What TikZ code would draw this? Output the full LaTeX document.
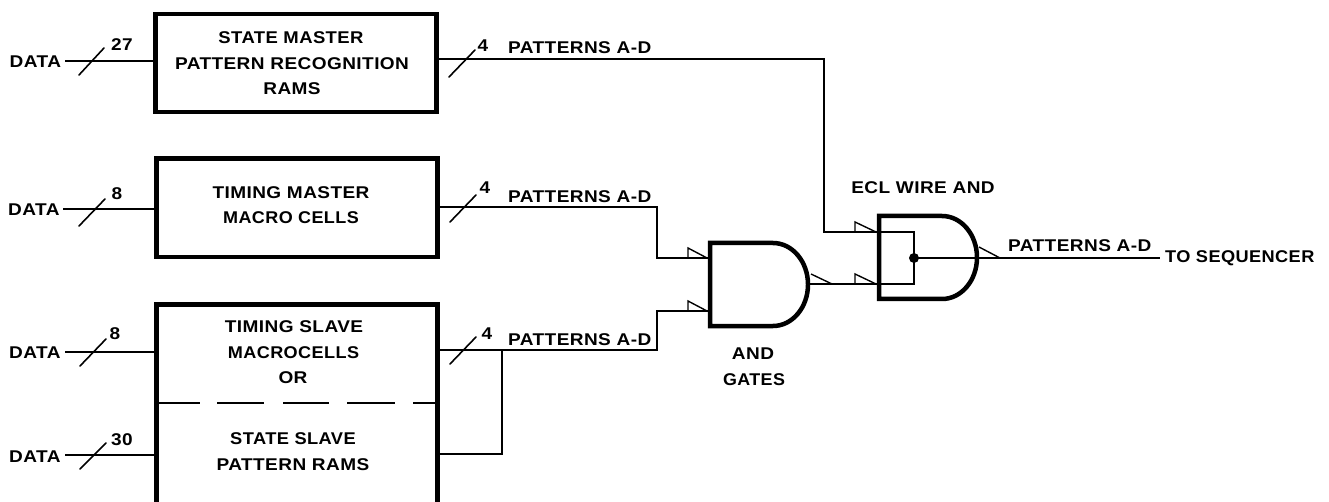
\documentclass[tikz,border=0pt]{standalone}
\usepackage{fontspec}
\newfontfamily\lblfont{Liberation Sans Bold}[FakeStretch=1.12,LetterSpace=2.5]
\tikzset{
  boxnode/.style={draw,line width=4.5pt,inner sep=0pt,anchor=north west},
  lbl/.style={font=\lblfont\fontsize{17}{17}\selectfont,inner sep=0pt,yshift=-1pt},
  tight/.style={transform shape,xscale=#1},
  wire/.style={line width=1.5pt},
  heavy/.style={line width=4.5pt,line join=miter},
  tick/.style={line width=1.6pt,line cap=round},
  pol/.style={line width=1.4pt,line join=miter},
}
\begin{document}
\begin{tikzpicture}[x=1pt,y=-1pt]
\useasboundingbox (0,0) rectangle (1329,502);
% boxes
\node[boxnode,minimum width=281pt,minimum height=98pt] (b1) at (153,12) {};
\node[boxnode,minimum width=281pt,minimum height=98.5pt] (b2) at (154,156.5) {};
\node[boxnode,minimum width=281pt,minimum height=199.5pt] (b3) at (154,302.5) {};
\node[lbl,tight=.97] (t1a) at (291,37) {STATE MASTER};
\node[lbl] (t1b) at (292,63) {PATTERN RECOGNITION};
\node[lbl] (t1c) at (292,88) {RAMS};
\node[lbl] (t2a) at (291,192) {TIMING MASTER};
\node[lbl,tight=.945] (t2b) at (291,217) {MACRO CELLS};
\node[lbl] (t3a) at (294,326) {TIMING SLAVE};
\node[lbl,tight=.95] (t3b) at (293.5,352) {MACROCELLS};
\node[lbl] (t3c) at (293,377) {OR};
\node[lbl,tight=.96] (t3d) at (293,438) {STATE SLAVE};
\node[lbl] (t3e) at (293,464) {PATTERN RAMS};
\draw[wire] (b3.west |- 0,403) -- (200,403) (217,403) -- (264,403) (283,403) -- (329,403) (347,403) -- (395,403) (413,403) -- (b3.east |- 0,403);
% data inputs
\node[lbl,anchor=west] (d1) at (9.5,61) {DATA};
\node[lbl,anchor=west] (d2) at (8,209) {DATA};
\node[lbl,anchor=west] (d3) at (9,352) {DATA};
\node[lbl,anchor=west] (d4) at (9,456) {DATA};
\draw[wire] (65,61) -- (b1.west |- 0,61);
\draw[wire] (63,209) -- (b2.west |- 0,209);
\draw[wire] (65,352) -- (b3.west |- 0,352);
\draw[wire] (65,455) -- (b3.west |- 0,455);
\draw[tick] (79,75) -- (104,48);
\draw[tick] (79,226) -- (105,199);
\draw[tick] (80,366) -- (106,339);
\draw[tick] (80,469) -- (106,443);
\node[lbl] (n1) at (122,44) {27};
\node[lbl] (n2) at (117,193) {8};
\node[lbl] (n3) at (115,333) {8};
\node[lbl] (n4) at (122,439) {30};
% output ticks
\draw[tick] (449,77) -- (475,50);
\draw[tick] (450,222) -- (476,195);
\draw[tick] (450,364) -- (476,337);
\node[lbl] (n5) at (483,45) {4};
\node[lbl] (n6) at (485,187) {4};
\node[lbl] (n7) at (487,333) {4};
\node[lbl,anchor=west] (p1) at (508,47) {PATTERNS A-D};
\node[lbl,anchor=west] (p2) at (508,196) {PATTERNS A-D};
\node[lbl,anchor=west] (p3) at (508,339) {PATTERNS A-D};
\node[lbl,anchor=west] (p4) at (1008,245) {PATTERNS A-D};
\node[lbl,anchor=west,tight=.955] (seq) at (1165,257) {TO SEQUENCER};
\node[lbl] (ecl) at (923,187) {ECL WIRE AND};
\node[lbl] (ag1) at (753,353) {AND};
\node[lbl,tight=.94] (ag2) at (754,379) {GATES};
% gates
\draw[heavy] (710,243) -- (773,243) arc[start angle=-90,end angle=90,x radius=35,y radius=41.5] -- (710,326) -- cycle;
\draw[heavy] (879,216) -- (942,216) arc[start angle=-90,end angle=90,x radius=35,y radius=41.5] -- (879,299) -- cycle;
% wiring
\coordinate (g1a) at (710,258);\coordinate (g1b) at (710,311);\coordinate (g1o) at (808,284);
\coordinate (g2a) at (879,232);\coordinate (g2b) at (879,284);\coordinate (g2o) at (977,258);
\coordinate (jn) at (914,258);\coordinate (seqend) at (1160,258);
\draw[wire] (b1.east |- 0,59) -| (824,232) -- (g2a);
\draw[wire] (b2.east |- 0,207) -| (657,258) -- (g1a);
\draw[wire] (b3.east |- 0,350) -| (657,311) -- (g1b);
\draw[wire] (502,350) -- (502,454) -- (b3.east |- 0,454);
\draw[wire] (g1o) -- (g2b);
\draw[wire] (g2a) -| (jn) |- (g2b);
\draw[wire] (jn) -- (g2o) -- (seqend);
\fill (jn) circle[radius=5];
% polarity triangles
\draw[pol] (688,258) -- (688,248) -- (707,258);
\draw[pol] (688,311) -- (688,301) -- (707,311);
\draw[pol] (855,232) -- (855,222) -- (876,232);
\draw[pol] (855,284) -- (855,274) -- (876,284);
\draw[pol] (811,274) -- (832,284);
\draw[pol] (979,247) -- (1000,258);
\end{tikzpicture}
\end{document}
